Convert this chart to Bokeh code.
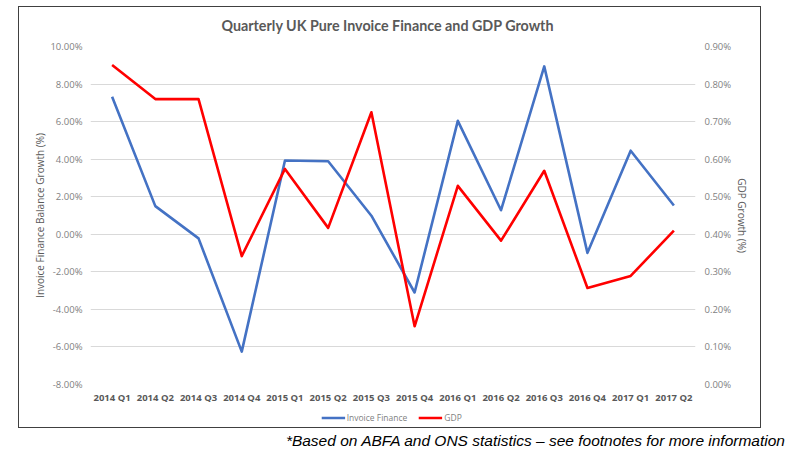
from bokeh.plotting import figure
from bokeh.layouts import column
from bokeh.models import (LinearAxis, Range1d, Legend, LegendItem, Div,
                          PrintfTickFormatter, FactorRange, FixedTicker, ColumnDataSource)
from bokeh.embed import file_html
from bokeh.resources import INLINE

quarters = ["2014 Q1", "2014 Q2", "2014 Q3", "2014 Q4", "2015 Q1", "2015 Q2", "2015 Q3",
            "2015 Q4", "2016 Q1", "2016 Q2", "2016 Q3", "2016 Q4", "2017 Q1", "2017 Q2"]
invoice_finance = [7.32, 1.50, -0.22, -6.25, 3.93, 3.89, 0.99,
                   -3.10, 6.04, 1.28, 8.94, -0.99, 4.45, 1.53]
gdp = [0.851, 0.760, 0.760, 0.342, 0.574, 0.417, 0.725,
       0.155, 0.529, 0.383, 0.569, 0.257, 0.289, 0.410]
left_ticks = [-8, -6, -4, -2, 0, 2, 4, 6, 8, 10]
right_ticks = [0.0, 0.1, 0.2, 0.3, 0.4, 0.5, 0.6, 0.7, 0.8, 0.9]
series_names = ["Invoice Finance", "GDP"]
series_colors = ["#4472C4", "#FF0000"]

GREY = "#595959"
LIGHT = "#7F7F7F"
FONT = "Open Sans"

src = ColumnDataSource(dict(q=quarters, inv=invoice_finance, gdp=gdp))

title = Div(text="Quarterly UK Pure Invoice Finance and GDP Growth",
            width=741, height=32, margin=0,
            styles={"text-align": "center", "text-indent": "-4px",
                    "font-family": "Lato, 'Open Sans', sans-serif", "font-weight": "bold",
                    "font-size": "14.3px", "color": GREY, "line-height": "38px",
                    "white-space": "nowrap", "width": "741px", "overflow": "hidden"})

p = figure(width=741, height=363, frame_width=605, frame_height=333,
           output_backend="svg", toolbar_location=None, margin=0,
           x_range=FactorRange(factors=quarters, range_padding=0),
           y_range=Range1d(left_ticks[0], left_ticks[-1]),
           min_border_left=71, min_border_right=65, min_border_top=7, min_border_bottom=23)
p.extra_y_ranges = {"gdp": Range1d(right_ticks[0], right_ticks[-1])}

p.outline_line_color = None
p.background_fill_color = "white"
p.border_fill_color = "white"
p.xgrid.grid_line_color = None
p.ygrid.grid_line_color = "#D9D9D9"
p.ygrid.grid_line_width = 1

yl = p.yaxis[0]
yl.ticker = FixedTicker(ticks=left_ticks)
yl.formatter = PrintfTickFormatter(format="%.2f%%")
yl.axis_label = "Invoice Finance Balance Growth (%)"

yr = LinearAxis(y_range_name="gdp", ticker=FixedTicker(ticks=right_ticks),
                formatter=PrintfTickFormatter(format="%.2f%%"),
                axis_label="GDP Growth (%)")
p.add_layout(yr, "right")

for ax in (yl, yr):
    ax.axis_line_color = None
    ax.major_tick_line_color = None
    ax.minor_tick_line_color = None
    ax.major_tick_out = 0
    ax.major_tick_in = 0
    ax.minor_tick_out = 0
    ax.minor_tick_in = 0
    ax.major_label_text_font = FONT
    ax.major_label_text_font_size = "9.5px"
    ax.major_label_text_color = LIGHT
    ax.major_label_standoff = 8
    ax.axis_label_text_font = FONT
    ax.axis_label_text_font_size = "10px"
    ax.axis_label_text_font_style = "normal"
    ax.axis_label_text_color = GREY
    ax.axis_label_standoff = 0
yr.major_label_standoff = 9
yr.axis_label_standoff = 1

xa = p.xaxis[0]
xa.axis_line_color = None
xa.major_tick_line_color = None
xa.minor_tick_line_color = None
xa.major_tick_out = 0
xa.major_tick_in = 0
xa.major_label_text_font = FONT
xa.major_label_text_font_size = "9.5px"
xa.major_label_text_font_style = "bold"
xa.major_label_text_color = GREY
xa.major_label_standoff = 6

p.line("q", "inv", source=src, line_color=series_colors[0], line_width=2.6, line_join="round")
p.line("q", "gdp", source=src, y_range_name="gdp", line_color=series_colors[1],
       line_width=2.6, line_join="round")

# legend strip (separate figure so the legend isn't clipped by the plot frame)
lf = figure(width=741, height=20, output_backend="svg", toolbar_location=None, margin=0,
            x_axis_location=None, y_axis_location=None,
            x_range=Range1d(0, 1), y_range=Range1d(0, 1),
            min_border_left=0, min_border_right=0, min_border_top=0, min_border_bottom=0)
lf.grid.visible = False
lf.outline_line_color = None
items = []
for name, col in zip(series_names, series_colors):
    empty = ColumnDataSource(dict(x=[float("nan")], y=[float("nan")]))
    r = lf.line("x", "y", source=empty, line_color=col, line_width=2.6)
    items.append(LegendItem(label=name, renderers=[r]))
legend = Legend(items=items, orientation="horizontal", location="center",
                margin=0, padding=0, spacing=11, label_standoff=2,
                glyph_width=24, glyph_height=10, label_height=10,
                label_text_font=FONT, label_text_font_size="8.5px", label_text_color=LIGHT,
                border_line_alpha=0, background_fill_alpha=0)
lf.add_layout(legend)

box = column(title, p, lf, spacing=0, width=741, height=420, margin=(7, 0, 0, 19),
             styles={"outline": "1.5px solid #404040"})

note = Div(text="*Based on ABFA and ONS statistics \u2013 see footnotes for more information",
           width=766, height=20, margin=(5, 0, 0, 19),
           styles={"text-align": "right", "font-family": "'Liberation Sans', Arial, sans-serif",
                   "font-style": "italic", "font-size": "15.5px", "color": "black",
                   "line-height": "17px", "white-space": "nowrap"})

layout = column(box, note, spacing=0)
open("out.html", "w").write(file_html(layout, INLINE))
